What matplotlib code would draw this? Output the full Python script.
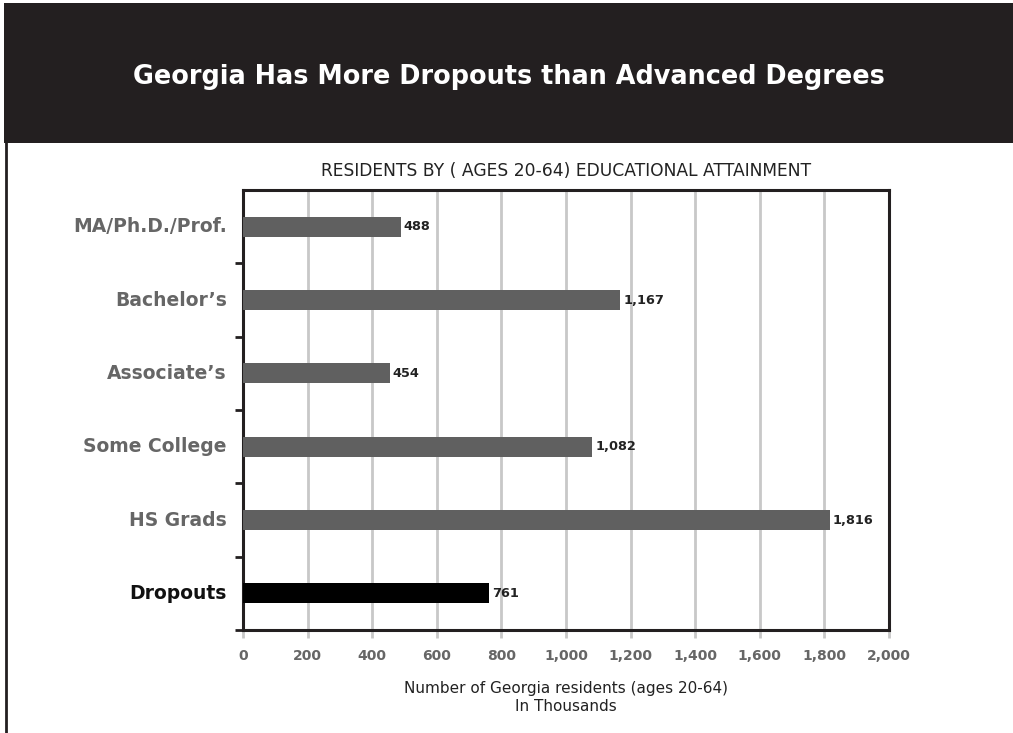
import matplotlib.pyplot as plt
import matplotlib.patches as patches

categories = ["Dropouts", "HS Grads", "Some College", "Associate\u2019s", "Bachelor\u2019s", "MA/Ph.D./Prof."]
values = [761, 1816, 1082, 454, 1167, 488]
bar_colors = ["#000000", "#606060", "#606060", "#606060", "#606060", "#606060"]
label_colors = ["#111111", "#666666", "#666666", "#666666", "#666666", "#666666"]
xticks = list(range(0, 2001, 200))

plt.rcParams['font.family'] = ['DejaVu Sans']

W, H = 1013, 733
fig = plt.figure(figsize=(W / 100, H / 100), dpi=100)
fig.patch.set_facecolor("white")

# dark header band and left border
fig.add_artist(patches.Rectangle((4 / W, 1 - 143 / H), 1, 140 / H, transform=fig.transFigure,
                                 facecolor="#231f20", edgecolor="none"))
fig.add_artist(plt.Line2D([6 / W, 6 / W], [0, 1 - 143 / H], transform=fig.transFigure,
                          color="#231f20", lw=2))
fig.text(509 / W, 1 - 77 / H, "Georgia Has More Dropouts than Advanced Degrees",
         color="white", fontsize=18.4, fontweight="bold", ha="center", va="center")

ax = fig.add_axes([243 / W, 1 - 630 / H, (889 - 243) / W, (630 - 190) / H])
y = range(len(categories))
ax.barh(y, values, height=0.27, color=bar_colors, zorder=3)
for i, v in enumerate(values):
    ax.text(v + 10, i, f"{v:,}", va="center", ha="left", fontsize=9.3,
            fontweight="bold", color="#222222", zorder=4)

ax.set_xlim(0, 2000)
ax.set_ylim(-0.5, len(categories) - 0.5)
ax.set_xticks(xticks)
ax.set_xticklabels([f"{t:,}" for t in xticks], fontsize=10, fontweight="bold", color="#666666")
ax.tick_params(axis="x", length=6, width=2, color="#c8c8c8", pad=8)
ax.grid(axis="x", color="#c8c8c8", lw=2, zorder=0)

ax.set_yticks([i + 0.5 for i in range(len(categories) - 1)] + [-0.5])
ax.set_yticklabels([])
ax.tick_params(axis="y", length=6, width=2, color="#231f20")
for i, c in enumerate(categories):
    ax.text(-0.025, i, c, transform=ax.get_yaxis_transform(), ha="right", va="center",
            fontsize=13.5, fontweight="bold", color=label_colors[i])

for s in ax.spines.values():
    s.set_linewidth(2.2)
    s.set_color("#231f20")

ax.set_title("RESIDENTS BY ( AGES 20-64) EDUCATIONAL ATTAINMENT", fontsize=12.3,
             color="#222222", pad=10)
ax.set_xlabel("Number of Georgia residents (ages 20-64)\nIn Thousands", fontsize=11,
              color="#222222", labelpad=13, linespacing=1.2)

fig.savefig("out.png", dpi=100)
